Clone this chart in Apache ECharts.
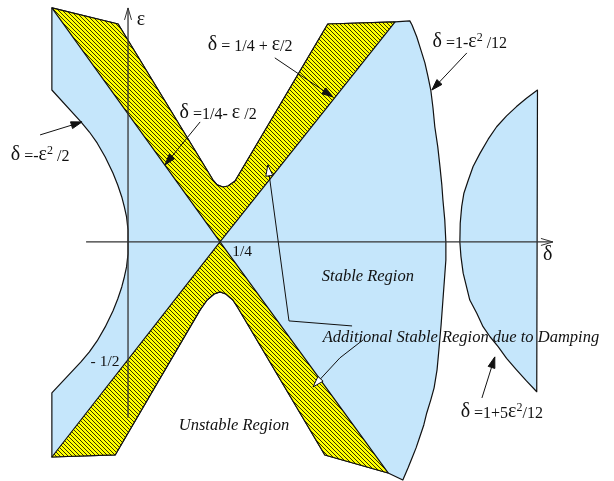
<!DOCTYPE html>
<html>
<head>
<meta charset="utf-8">
<script src="https://cdn.jsdelivr.net/npm/echarts@6/dist/echarts.min.js"></script>
<style>
  html, body { margin: 0; background: #fff; }
  #chart { width: 614px; height: 481px; }
</style>
</head>
<body>
<div id="chart"></div>
<script>
// plane of the stability chart: delta horizontal, epsilon vertical
const deltaRange = [-0.348, 1.321];
const epsRange = [-0.996, 1.008];

// stable region (blue), outer boundary incl. the notches of the unstable wedges
const stableMain = [
  [-0.207, 0.975], [-0.027, 0.908], [0.231, 0.258], [0.242, 0.2375], [0.258, 0.229],
  [0.272, 0.233], [0.291, 0.254], [0.543, 0.908], [0.726, 0.917],
  // delta = 1 - eps^2/12
  [0.766, 0.921], [0.772, 0.904], [0.785, 0.854], [0.796, 0.8], [0.807, 0.746],
  [0.815, 0.692], [0.823, 0.633], [0.829, 0.558], [0.834, 0.479], [0.842, 0.396],
  [0.848, 0.3125], [0.853, 0.2375], [0.856, 0.175], [0.861, 0.092], [0.864, 0],
  [0.864, -0.075], [0.861, -0.1375], [0.856, -0.242], [0.851, -0.346], [0.845, -0.45],
  [0.840, -0.533], [0.832, -0.608], [0.823, -0.658], [0.812, -0.7125], [0.804, -0.7625],
  [0.793, -0.8125], [0.783, -0.858], [0.772, -0.9], [0.761, -0.942], [0.747, -0.992],
  // bottom and lower unstable wedge
  [0.707, -0.9625], [0.535, -0.8875], [0.299, -0.275], [0.285, -0.242], [0.266, -0.217],
  [0.25, -0.208], [0.234, -0.217], [0.215, -0.242], [0.196, -0.283], [-0.035, -0.8875],
  [-0.207, -0.896], [-0.207, -0.629],
  // delta = -eps^2/2
  [-0.128, -0.5], [-0.105, -0.458], [-0.084, -0.4125], [-0.062, -0.354], [-0.041, -0.2875],
  [-0.028, -0.2375], [-0.017, -0.1875], [-0.010, -0.146], [-0.004, -0.104], [0, -0.05],
  [0, 0], [0, 0.05], [-0.004, 0.104], [-0.010, 0.146], [-0.017, 0.1875], [-0.028, 0.2375],
  [-0.041, 0.2875], [-0.062, 0.354], [-0.084, 0.4125], [-0.105, 0.458], [-0.128, 0.5],
  [-0.207, 0.633]
];

// second stable tongue, delta = 1 + 5 eps^2/12
const stableRight = [
  [1.113, 0.633], [1.083, 0.599], [1.056, 0.564], [1.029, 0.525], [1.002, 0.480],
  [0.979, 0.428], [0.957, 0.370], [0.938, 0.314], [0.925, 0.258], [0.913, 0.203],
  [0.907, 0.147], [0.903, 0.078], [0.902, 0], [0.905, -0.061], [0.911, -0.130],
  [0.920, -0.186], [0.929, -0.242], [0.948, -0.297], [0.965, -0.353], [0.984, -0.395],
  [1.006, -0.436], [1.029, -0.485], [1.056, -0.533], [1.083, -0.579], [1.111, -0.624]
];

// additional stable region due to damping (hatched bands)
const bandUpper = [
  [-0.207, 0.975], [-0.027, 0.908], [0.231, 0.258], [0.242, 0.2375], [0.258, 0.229],
  [0.272, 0.233], [0.291, 0.254], [0.543, 0.908], [0.726, 0.917], [0.25, 0]
];
const bandLower = [
  [0.25, 0], [-0.207, -0.896], [-0.035, -0.8875], [0.196, -0.283], [0.215, -0.242],
  [0.234, -0.217], [0.25, -0.208], [0.266, -0.217], [0.285, -0.242], [0.299, -0.275],
  [0.535, -0.8875], [0.707, -0.9625]
];

const axisLines = [
  [[-0.114, 0], [1.155, 0]],
  [[0, -0.733], [0, 0.975]]
];

// leaders with a black head (formula labels)
const formulaLeaders = [
  [[0.399, 0.767], [0.557, 0.604]],
  [[0.196, 0.5], [0.1005, 0.321]],
  [[-0.239, 0.446], [-0.125, 0.5]],
  [[0.921, 0.7875], [0.826, 0.633]],
  [[0.962, -0.65], [0.997, -0.479]]
];
// leaders with a white head (damping label)
const dampingLeaders = [
  [[0.609, -0.35], [0.4375, -0.329], [0.380, 0.321]],
  [[0.639, -0.408], [0.576, -0.483], [0.503, -0.604]]
];

const mathLabels = [
  [0.035, 0.925, '{g|ε}'],
  [1.141, -0.054, '{g|δ}'],
  [0.332, 0.821, '{g|δ}{n| = 1/4 + }{g|ε}{n|/2}'],
  [0.245, 0.5375, '{g|δ}{n| =1/4- }{g|ε}{n| /2}'],
  [-0.239, 0.3625, '{g|δ}{n| =-}{g|ε}{s|2}{n| /2}'],
  [0.929, 0.833, '{g|δ}{n| =1-}{g|ε}{s|2}{n| /12}'],
  [1.016, -0.708, '{g|δ}{n| =1+5}{g|ε}{s|2}{n|/12}']
];
const tickLabels = [
  [0.310, -0.042, '1/4'],
  [-0.0625, -0.5, '- 1/2']
];
const regionLabels = [
  [0.652, -0.146, 'Stable Region'],
  [0.288, -0.767, 'Unstable Region'],
  [0.905, -0.4, 'Additional Stable Region due to Damping']
];

const serif = 'Liberation Serif';
const ink = '#111';

function hatch() {
  const c = document.createElement('canvas');
  c.width = c.height = 4;
  const ctx = c.getContext('2d');
  ctx.fillStyle = '#ffff00';
  ctx.fillRect(0, 0, 4, 4);
  ctx.strokeStyle = '#000';
  ctx.lineWidth = 0.8;
  ctx.beginPath();
  ctx.moveTo(-1, -1); ctx.lineTo(5, 5);
  ctx.moveTo(-1, 3); ctx.lineTo(1, 5);
  ctx.moveTo(3, -1); ctx.lineTo(5, 1);
  ctx.stroke();
  return c;
}

function area(points, fill, z) {
  return {
    type: 'custom', z: z, silent: true, data: [[0, 0]],
    renderItem: (params, api) => ({
      type: 'polygon',
      shape: { points: points.map(p => api.coord(p)) },
      style: { fill: fill, stroke: ink, lineWidth: 1.2, lineJoin: 'round' }
    })
  };
}

function head(from, to, len, half) {
  const a = Math.atan2(to[1] - from[1], to[0] - from[0]);
  const bx = to[0] - len * Math.cos(a), by = to[1] - len * Math.sin(a);
  const nx = -Math.sin(a) * half, ny = Math.cos(a) * half;
  return [[bx + nx, by + ny], to, [bx - nx, by - ny]];
}

function leaders(lines, headFill, z) {
  return {
    type: 'custom', z: z, silent: true,
    data: lines.map(() => [0, 0]),
    renderItem: (params, api) => {
      const pts = lines[params.dataIndex].map(p => api.coord(p));
      const n = pts.length;
      return {
        type: 'group', children: [
          { type: 'polyline', shape: { points: pts }, style: { stroke: ink, lineWidth: 1, fill: null } },
          { type: 'polygon', shape: { points: head(pts[n - 2], pts[n - 1], 11, 3.5) },
            style: { fill: headFill, stroke: ink, lineWidth: 1 } }
        ]
      };
    }
  };
}

function axes(z) {
  return {
    type: 'custom', z: z, silent: true,
    data: axisLines.map(() => [0, 0]),
    renderItem: (params, api) => {
      const pts = axisLines[params.dataIndex].map(p => api.coord(p));
      return {
        type: 'group', children: [
          { type: 'polyline', shape: { points: pts }, style: { stroke: '#333', lineWidth: 1.3, fill: null } },
          { type: 'polyline', shape: { points: head(pts[0], pts[1], 12, 3.5) },
            style: { stroke: '#333', lineWidth: 1, fill: null } }
        ]
      };
    }
  };
}

function labels(items, style, z) {
  return {
    type: 'custom', z: z, silent: true,
    data: items.map(d => [d[0], d[1]]),
    renderItem: (params, api) => {
      const p = api.coord([api.value(0), api.value(1)]);
      return {
        type: 'text', x: p[0], y: p[1],
        style: Object.assign({
          text: items[params.dataIndex][2], align: 'center', verticalAlign: 'middle'
        }, style)
      };
    }
  };
}

const chart = echarts.init(document.getElementById('chart'));
chart.setOption({
  animation: false,
  grid: { left: 0, right: 0, top: 0, bottom: 0 },
  xAxis: { type: 'value', min: deltaRange[0], max: deltaRange[1], show: false },
  yAxis: { type: 'value', min: epsRange[0], max: epsRange[1], show: false },
  series: [
    area(stableMain, '#c5e6fb', 1),
    area(stableRight, '#c5e6fb', 1),
    area(bandUpper, { image: hatch(), repeat: 'repeat' }, 2),
    area(bandLower, { image: hatch(), repeat: 'repeat' }, 2),
    axes(3),
    leaders(formulaLeaders, ink, 4),
    leaders(dampingLeaders, '#fff', 4),
    labels(mathLabels, {
      fill: ink, fontFamily: serif, fontSize: 16,
      rich: {
        g: { fontFamily: serif, fontSize: 20, fill: ink, verticalAlign: 'bottom' },
        n: { fontFamily: serif, fontSize: 16, fill: ink, verticalAlign: 'bottom' },
        s: { fontFamily: serif, fontSize: 12, fill: ink, verticalAlign: 'top' }
      }
    }, 5),
    labels(tickLabels, { fill: ink, fontFamily: serif, fontSize: 15.5 }, 5),
    labels(regionLabels, { fill: ink, fontFamily: serif, fontSize: 16.5, fontStyle: 'italic' }, 5)
  ]
});
</script>
</body>
</html>
